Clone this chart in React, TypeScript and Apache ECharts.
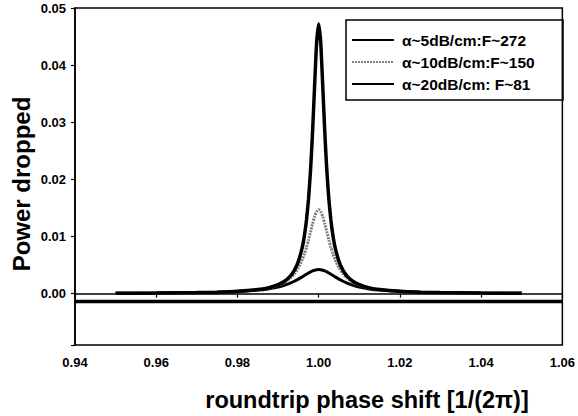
import React, { useEffect, useRef } from "react";
import * as echarts from "echarts";

const xValues = [
  0.95, 0.96, 0.97, 0.975, 0.98, 0.985, 0.9875, 0.99, 0.9915, 0.993, 0.994, 0.995, 0.996, 0.9965, 0.997, 0.9975, 0.998, 0.9985, 0.999, 0.9995,
  1.0,
  1.0005, 1.001, 1.0015, 1.002, 1.0025, 1.003, 1.0035, 1.004, 1.005, 1.006, 1.007, 1.0085, 1.01, 1.0125, 1.015, 1.02, 1.025, 1.03, 1.04, 1.05,
];

const alpha5 = [
  0.00006, 0.0001, 0.00018, 0.00025, 0.0004, 0.0007, 0.001, 0.00155, 0.00211, 0.00305, 0.00406, 0.00563, 0.00824, 0.01022, 0.0129, 0.01658, 0.02164, 0.02836, 0.03644, 0.04396,
  0.0472,
  0.04396, 0.03644, 0.02836, 0.02164, 0.01658, 0.0129, 0.01022, 0.00824, 0.00563, 0.00406, 0.00305, 0.00211, 0.00155, 0.001, 0.0007, 0.0004, 0.00025, 0.00018, 0.0001, 0.00006,
];

const alpha10 = [
  0.000065, 0.0001, 0.00018, 0.000256, 0.0004, 0.00069, 0.00097, 0.00147, 0.00196, 0.00272, 0.00346, 0.00452, 0.00602, 0.00698, 0.00812, 0.00941, 0.01081, 0.01222, 0.01349, 0.01438,
  0.0147,
  0.01438, 0.01349, 0.01222, 0.01081, 0.00941, 0.00812, 0.00698, 0.00602, 0.00452, 0.00346, 0.00272, 0.00196, 0.00147, 0.00097, 0.00069, 0.0004, 0.000256, 0.00018, 0.0001, 0.000065,
];

const alpha20 = [
  0.00006, 0.0001, 0.00017, 0.00024, 0.00036, 0.00061, 0.00082, 0.00116, 0.00145, 0.00184, 0.00216, 0.00253, 0.00296, 0.00318, 0.0034, 0.00361, 0.0038, 0.00397, 0.00409, 0.00417,
  0.0042,
  0.00417, 0.00409, 0.00397, 0.0038, 0.00361, 0.0034, 0.00318, 0.00296, 0.00253, 0.00216, 0.00184, 0.00145, 0.00116, 0.00082, 0.00061, 0.00036, 0.00024, 0.00017, 0.0001, 0.00006,
];

const baselineX = [0.94, 1.06];
const baselineY = [-0.0014, -0.0014];

const seriesNames = ["α~5dB/cm:F~272", "α~10dB/cm:F~150", "α~20dB/cm: F~81"];

const FONT = '"Liberation Sans", Arial, Helvetica, sans-serif';

function pairs(xs: number[], ys: number[]) {
  return xs.map((x, i) => [x, ys[i]]);
}

export default function App() {
  const ref = useRef<HTMLDivElement>(null);
  useEffect(() => {
    if (!ref.current) return;
    const chart = echarts.init(ref.current, undefined, { renderer: "svg" });
    chart.setOption({
      animation: false,
      backgroundColor: "#ffffff",
      grid: {
        left: 75,
        right: 13,
        top: 8,
        bottom: 71,
        show: true,
        borderColor: "#000",
        borderWidth: 1.5,
        backgroundColor: "transparent",
      },
      xAxis: {
        type: "value",
        min: 0.94,
        max: 1.06,
        interval: 0.02,
        axisLine: { show: true, lineStyle: { color: "#000", width: 1.5 } },
        axisTick: { show: true, inside: false, length: 4, lineStyle: { color: "#000", width: 1.2 } },
        splitLine: { show: false },
        axisLabel: {
          color: "#000",
          fontFamily: FONT,
          fontWeight: "bold",
          fontSize: 13,
          margin: 11,
          formatter: (v: number) => v.toFixed(2),
        },
      },
      yAxis: {
        type: "value",
        min: -0.009,
        max: 0.05,
        axisLine: { show: true, lineStyle: { color: "#000", width: 1.5 } },
        axisTick: { show: true, inside: false, length: 4, lineStyle: { color: "#000", width: 1.2 } },
        splitLine: { show: false },
        axisLabel: {
          color: "#000",
          fontFamily: FONT,
          fontWeight: "bold",
          fontSize: 13,
          margin: 9,
          formatter: (v: number) => (v < -0.0001 ? "" : v.toFixed(2)),
        },
      },
      legend: {
        left: 351,
        top: 32,
        orient: "vertical",
        itemWidth: 42,
        itemHeight: 12,
        itemGap: 6,
        padding: 0,
        data: seriesNames,
        itemStyle: { opacity: 0 },
        textStyle: {
          color: "#000",
          fontFamily: FONT,
          fontWeight: "bold",
          fontSize: 15.5,
          padding: [0, 0, 0, 3],
        },
      },
      graphic: [
        {
          type: "rect",
          shape: { x: 346, y: 20, width: 217, height: 80 },
          style: { fill: "none", stroke: "#000", lineWidth: 1.5 },
          z: 10,
        },
        {
          type: "text",
          x: 367,
          y: 400,
          style: {
            text: "roundtrip phase shift [1/(2π)]",
            fill: "#000",
            font: `bold 23.5px ${FONT}`,
            textAlign: "center",
            textVerticalAlign: "middle",
          },
        },
        {
          type: "text",
          x: 21,
          y: 184,
          rotation: Math.PI / 2,
          style: {
            text: "Power dropped",
            fill: "#000",
            font: `bold 24px ${FONT}`,
            textAlign: "center",
            textVerticalAlign: "middle",
          },
        },
      ],
      series: [
        {
          name: "baseline",
          type: "line",
          data: pairs(baselineX, baselineY),
          symbol: "none",
          lineStyle: { color: "#000", width: 3.5 },
          silent: true,
          z: 1,
        },
        {
          name: seriesNames[2],
          type: "line",
          data: pairs(xValues, alpha20),
          symbol: "none",
          smooth: 0.2,
          lineStyle: { color: "#000", width: 3 },
          itemStyle: { color: "#000" },
          z: 2,
        },
        {
          name: seriesNames[1],
          type: "line",
          data: pairs(xValues, alpha10),
          symbol: "none",
          smooth: 0.2,
          lineStyle: { color: "#808080", width: 3, type: [2, 1] },
          itemStyle: { color: "#808080" },
          z: 3,
        },
        {
          name: seriesNames[0],
          type: "line",
          data: pairs(xValues, alpha5),
          symbol: "none",
          smooth: 0.2,
          lineStyle: { color: "#000", width: 3.5 },
          itemStyle: { color: "#000" },
          z: 4,
        },
      ],
    });
    return () => chart.dispose();
  }, []);
  return (
    <div
      ref={ref}
      style={{ position: "fixed", left: 0, top: 0, width: 578, height: 416 }}
    />
  );
}
